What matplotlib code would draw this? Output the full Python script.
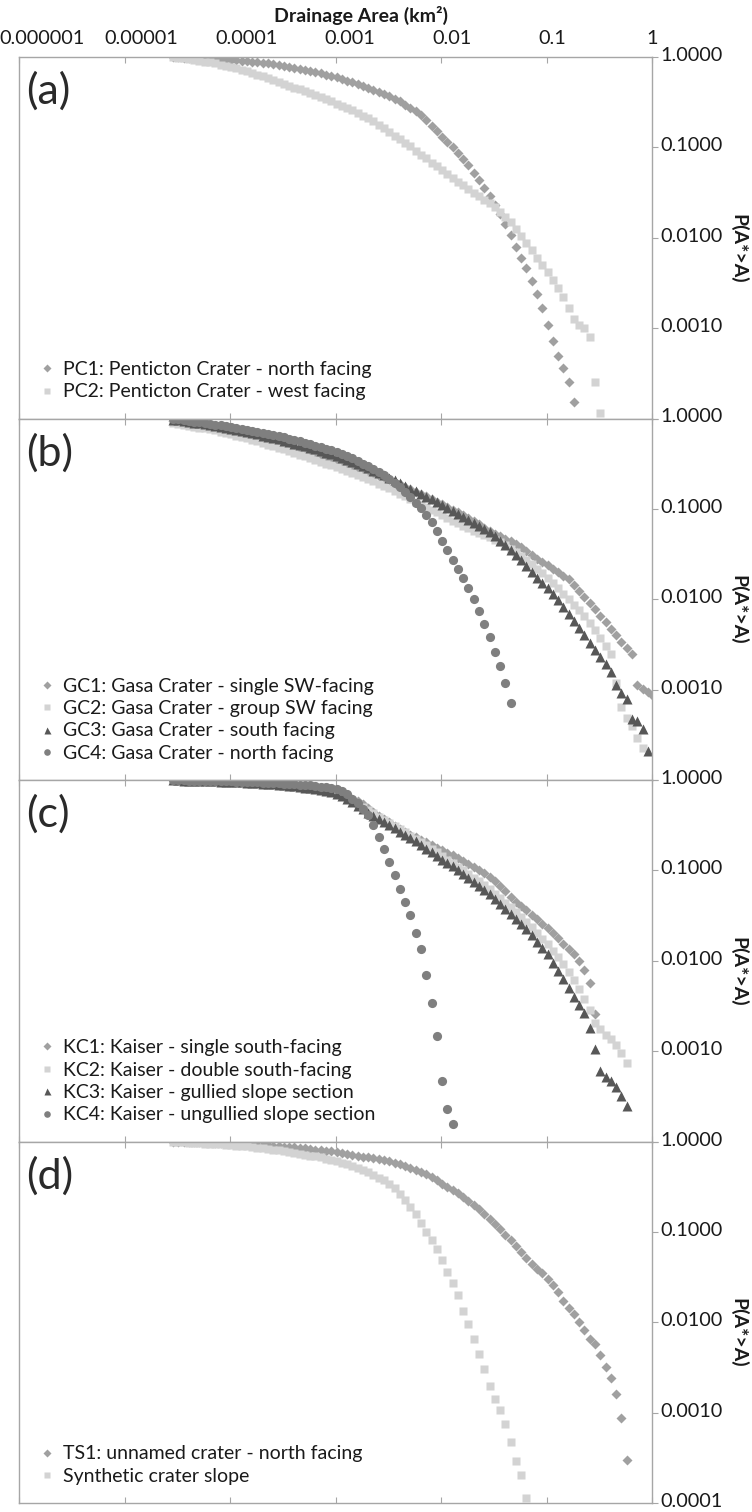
import numpy as np
import matplotlib
matplotlib.use("Agg")
import matplotlib.pyplot as plt
from matplotlib.transforms import ScaledTranslation
from matplotlib.ticker import NullLocator
from matplotlib.lines import Line2D

plt.rcParams['font.family'] = ['Lato', 'DejaVu Sans']

# ---------------- data ----------------
# log10 of drainage-area bin (km^2)
BIN_LOG_AREA = [
    -4.54, -4.49, -4.44, -4.39, -4.34, -4.29, -4.24, -4.19, -4.14, -4.09,
    -4.04, -3.99, -3.94, -3.89, -3.84, -3.79, -3.74, -3.69, -3.64, -3.59,
    -3.54, -3.49, -3.44, -3.39, -3.34, -3.29, -3.24, -3.19, -3.14, -3.09,
    -3.04, -2.99, -2.94, -2.89, -2.84, -2.79, -2.74, -2.69, -2.64, -2.59,
    -2.54, -2.49, -2.44, -2.39, -2.34, -2.29, -2.24, -2.19, -2.14, -2.09,
    -2.04, -1.99, -1.94, -1.89, -1.84, -1.79, -1.74, -1.69, -1.64, -1.59,
    -1.54, -1.49, -1.44, -1.39, -1.34, -1.29, -1.24, -1.19, -1.14, -1.09,
    -1.04, -0.99, -0.94, -0.89, -0.84, -0.79, -0.74, -0.69, -0.64, -0.59,
    -0.54, -0.49, -0.44, -0.39, -0.34, -0.29, -0.24, -0.19, -0.14, -0.09,
    -0.04, 0.01]

# log10 of exceedance probability P(A*>A) for each series, one value per bin
PC1_LOGP = [
    -0.004, -0.005, -0.007, -0.009, -0.011, -0.013, -0.015, -0.017, -0.020, -0.023,
    -0.026, -0.030, -0.034, -0.039, -0.044, -0.050, -0.056, -0.063, -0.070, -0.078,
    -0.087, -0.096, -0.106, -0.117, -0.128, -0.140, -0.152, -0.165, -0.179, -0.194,
    -0.210, -0.226, -0.243, -0.261, -0.280, -0.300, -0.321, -0.343, -0.365, -0.387,
    -0.41, -0.435, -0.46, -0.49, -0.53, -0.565, -0.60, -0.645, -0.70, -0.76,
    -0.82, -0.88, -0.94, -1.00, -1.065, -1.13, -1.20, -1.28, -1.36, -1.45,
    -1.54, -1.64, -1.74, -1.85, -1.97, -2.10, -2.22, -2.34, -2.48, -2.62,
    -2.78, -2.97, -3.14, -3.31, -3.44, -3.60, -3.82]
PC2_LOGP = [
    -0.004, -0.008, -0.015, -0.022, -0.030, -0.040, -0.050, -0.060, -0.071, -0.083,
    -0.096, -0.110, -0.125, -0.141, -0.158, -0.176, -0.195, -0.214, -0.234, -0.254,
    -0.275, -0.296, -0.317, -0.338, -0.359, -0.380, -0.401, -0.422, -0.443, -0.465,
    -0.49, -0.515, -0.54, -0.565, -0.59, -0.62, -0.65, -0.68, -0.71, -0.75,
    -0.79, -0.83, -0.87, -0.91, -0.95, -0.99, -1.04, -1.08, -1.12, -1.17,
    -1.21, -1.25, -1.30, -1.34, -1.38, -1.42, -1.46, -1.50, -1.54, -1.58,
    -1.62, -1.66, -1.71, -1.77, -1.83, -1.90, -1.98, -2.06, -2.14, -2.22,
    -2.30, -2.38, -2.47, -2.56, -2.66, -2.78, -2.90, -2.97, -3.00, -3.10,
    -3.60, -3.94]

GC1_LOGP = [
    -0.03, -0.037, -0.045, -0.053, -0.062, -0.071, -0.08, -0.09, -0.10, -0.112,
    -0.124, -0.137, -0.15, -0.163, -0.177, -0.191, -0.205, -0.22, -0.235, -0.25,
    -0.266, -0.282, -0.298, -0.315, -0.332, -0.35, -0.368, -0.386, -0.405, -0.424,
    -0.443, -0.463, -0.483, -0.503, -0.524, -0.545, -0.566, -0.588, -0.61, -0.633,
    -0.656, -0.68, -0.705, -0.73, -0.756, -0.782, -0.808, -0.835, -0.862, -0.89,
    -0.92, -0.95, -0.98, -1.01, -1.04, -1.07, -1.10, -1.135, -1.17, -1.21,
    -1.245, -1.275, -1.305, -1.335, -1.36, -1.385, -1.42, -1.465, -1.51, -1.55,
    -1.585, -1.62, -1.66, -1.70, -1.74, -1.78, -1.84, -1.91, -1.98, -2.04,
    -2.11, -2.18, -2.255, -2.33, -2.40, -2.47, -2.54, -2.61, -2.95, -2.99,
    -3.03, -3.07]
GC2_LOGP = [
    -0.05, -0.06, -0.07, -0.08, -0.09, -0.10, -0.11, -0.12, -0.13, -0.145,
    -0.16, -0.175, -0.19, -0.205, -0.22, -0.235, -0.252, -0.27, -0.288, -0.306,
    -0.324, -0.343, -0.362, -0.381, -0.40, -0.42, -0.44, -0.46, -0.48, -0.50,
    -0.52, -0.54, -0.562, -0.584, -0.606, -0.628, -0.65, -0.673, -0.696, -0.72,
    -0.745, -0.77, -0.80, -0.83, -0.86, -0.89, -0.92, -0.95, -0.98, -1.01,
    -1.04, -1.07, -1.10, -1.13, -1.16, -1.19, -1.215, -1.24, -1.265, -1.29,
    -1.315, -1.34, -1.37, -1.40, -1.44, -1.48, -1.52, -1.565, -1.61, -1.66,
    -1.71, -1.76, -1.82, -1.88, -1.94, -2.00, -2.06, -2.12, -2.19, -2.26,
    -2.34, -2.43, -2.52, -2.61, -2.93, -3.19, -3.31, -3.40, -3.53, -3.65]
GC3_LOGP = [
    -0.015, -0.022, -0.030, -0.038, -0.046, -0.055, -0.064, -0.073, -0.083, -0.093,
    -0.104, -0.115, -0.127, -0.139, -0.151, -0.164, -0.177, -0.19, -0.204, -0.218,
    -0.232, -0.247, -0.262, -0.277, -0.293, -0.309, -0.325, -0.342, -0.36, -0.378,
    -0.397, -0.417, -0.438, -0.46, -0.482, -0.505, -0.528, -0.552, -0.576, -0.60,
    -0.625, -0.655, -0.685, -0.715, -0.745, -0.775, -0.805, -0.835, -0.865, -0.895,
    -0.925, -0.955, -0.988, -1.02, -1.055, -1.09, -1.125, -1.16, -1.19, -1.22,
    -1.26, -1.30, -1.35, -1.40, -1.455, -1.51, -1.57, -1.635, -1.70, -1.76,
    -1.82, -1.88, -1.94, -2.01, -2.09, -2.165, -2.24, -2.32, -2.40, -2.48,
    -2.56, -2.64, -2.72, -2.80, -2.95, -3.04, -3.10, -3.33, -3.35, -3.44,
    -3.68]
GC4_LOGP = [
    -0.005, -0.010, -0.018, -0.026, -0.034, -0.042, -0.051, -0.060, -0.069, -0.076,
    -0.085, -0.094, -0.104, -0.114, -0.125, -0.137, -0.148, -0.160, -0.172, -0.185,
    -0.198, -0.210, -0.223, -0.237, -0.252, -0.268, -0.285, -0.302, -0.318, -0.336,
    -0.35, -0.37, -0.39, -0.415, -0.44, -0.47, -0.50, -0.53, -0.56, -0.59,
    -0.625, -0.665, -0.71, -0.76, -0.815, -0.87, -0.93, -0.995, -1.065, -1.144,
    -1.24, -1.35, -1.46, -1.565, -1.67, -1.77, -1.87, -2.00, -2.13, -2.27,
    -2.42, -2.58, -2.74, -2.93, -3.15]

KC1_LOGP = [
    -0.004, -0.005, -0.006, -0.007, -0.008, -0.009, -0.010, -0.011, -0.013, -0.015,
    -0.017, -0.019, -0.021, -0.024, -0.027, -0.030, -0.033, -0.037, -0.041, -0.045,
    -0.050, -0.055, -0.060, -0.066, -0.072, -0.079, -0.086, -0.094, -0.103, -0.114,
    -0.127, -0.142, -0.16, -0.18, -0.205, -0.235, -0.27, -0.31, -0.355, -0.395,
    -0.435, -0.47, -0.51, -0.546, -0.575, -0.605, -0.63, -0.66, -0.69, -0.72,
    -0.75, -0.78, -0.81, -0.835, -0.86, -0.895, -0.93, -0.96, -0.995, -1.03,
    -1.075, -1.12, -1.17, -1.23, -1.29, -1.35, -1.395, -1.44, -1.49, -1.54,
    -1.59, -1.64, -1.69, -1.75, -1.81, -1.87, -1.93, -2.00, -2.10, -2.25,
    -2.59]
KC2_LOGP = [
    -0.005, -0.006, -0.007, -0.008, -0.009, -0.010, -0.012, -0.014, -0.016, -0.018,
    -0.020, -0.022, -0.025, -0.028, -0.031, -0.034, -0.037, -0.041, -0.045, -0.049,
    -0.054, -0.059, -0.065, -0.071, -0.078, -0.086, -0.094, -0.102, -0.112, -0.124,
    -0.138, -0.155, -0.176, -0.20, -0.23, -0.265, -0.30, -0.335, -0.37, -0.405,
    -0.44, -0.475, -0.51, -0.545, -0.58, -0.615, -0.65, -0.685, -0.72, -0.76,
    -0.80, -0.84, -0.88, -0.92, -0.96, -1.00, -1.04, -1.08, -1.12, -1.16,
    -1.21, -1.26, -1.31, -1.36, -1.41, -1.46, -1.515, -1.57, -1.63, -1.69,
    -1.755, -1.82, -1.89, -1.96, -2.04, -2.12, -2.21, -2.31, -2.42, -2.55,
    -2.69, -2.76, -2.82, -2.87, -2.93, -3.02, -3.13]
KC3_LOGP = [
    -0.004, -0.005, -0.006, -0.007, -0.008, -0.009, -0.011, -0.013, -0.015, -0.017,
    -0.019, -0.021, -0.024, -0.027, -0.030, -0.033, -0.036, -0.040, -0.044, -0.048,
    -0.053, -0.058, -0.064, -0.07, -0.077, -0.085, -0.093, -0.10, -0.11, -0.122,
    -0.137, -0.155, -0.18, -0.21, -0.245, -0.285, -0.325, -0.36, -0.395, -0.43,
    -0.465, -0.50, -0.535, -0.57, -0.605, -0.64, -0.68, -0.72, -0.76, -0.80,
    -0.84, -0.88, -0.915, -0.955, -0.995, -1.04, -1.085, -1.13, -1.17, -1.215,
    -1.265, -1.315, -1.37, -1.425, -1.48, -1.535, -1.59, -1.65, -1.72, -1.79,
    -1.86, -1.93, -2.02, -2.11, -2.20, -2.30, -2.40, -2.49, -2.58, -2.74,
    -2.98, -3.22, -3.29, -3.33, -3.40, -3.50, -3.61]
KC4_LOGP = [
    -0.003, -0.004, -0.005, -0.006, -0.007, -0.008, -0.009, -0.010, -0.011, -0.012,
    -0.014, -0.016, -0.018, -0.020, -0.022, -0.024, -0.026, -0.028, -0.030, -0.033,
    -0.036, -0.039, -0.042, -0.046, -0.050, -0.055, -0.060, -0.066, -0.073, -0.081,
    -0.090, -0.10, -0.125, -0.16, -0.205, -0.26, -0.32, -0.39, -0.50, -0.63,
    -0.76, -0.91, -1.055, -1.21, -1.347, -1.498, -1.69, -1.875, -2.16, -2.465,
    -2.83, -3.33, -3.64, -3.81]

TS1_LOGP = [
    -0.003, -0.004, -0.005, -0.006, -0.007, -0.008, -0.009, -0.010, -0.012, -0.014,
    -0.016, -0.018, -0.020, -0.023, -0.027, -0.031, -0.035, -0.039, -0.043, -0.048,
    -0.052, -0.056, -0.060, -0.065, -0.070, -0.076, -0.082, -0.089, -0.096, -0.103,
    -0.110, -0.118, -0.127, -0.137, -0.147, -0.157, -0.167, -0.177, -0.187, -0.197,
    -0.207, -0.22, -0.235, -0.252, -0.27, -0.29, -0.312, -0.336, -0.36, -0.395,
    -0.43, -0.465, -0.50, -0.535, -0.572, -0.61, -0.655, -0.70, -0.75, -0.80,
    -0.855, -0.91, -0.97, -1.03, -1.095, -1.16, -1.225, -1.29, -1.36, -1.41,
    -1.46, -1.52, -1.59, -1.66, -1.76, -1.84, -1.91, -2.00, -2.09, -2.19,
    -2.24, -2.36, -2.50, -2.62, -2.79, -3.06, -3.52]
SYN_LOGP = [
    -0.005, -0.008, -0.011, -0.014, -0.017, -0.020, -0.023, -0.026, -0.029, -0.032,
    -0.036, -0.040, -0.045, -0.050, -0.055, -0.060, -0.067, -0.074, -0.082, -0.09,
    -0.099, -0.108, -0.117, -0.126, -0.135, -0.145, -0.155, -0.165, -0.177, -0.19,
    -0.205, -0.22, -0.235, -0.25, -0.27, -0.29, -0.315, -0.34, -0.37, -0.40,
    -0.43, -0.47, -0.52, -0.58, -0.65, -0.72, -0.80, -0.90, -1.00, -1.09,
    -1.19, -1.31, -1.44, -1.57, -1.70, -1.87, -2.02, -2.18, -2.35, -2.52,
    -2.71, -2.85, -2.97, -3.13, -3.32, -3.53, -3.69, -3.94]

PANEL_LETTERS = ['(a)', '(b)', '(c)', '(d)']
PANEL_SERIES = [
    [("PC1: Penticton Crater - north facing", PC1_LOGP, 'diamond'),
     ("PC2: Penticton Crater - west facing", PC2_LOGP, 'square')],
    [("GC1: Gasa Crater - single SW-facing", GC1_LOGP, 'diamond'),
     ("GC2: Gasa Crater - group SW facing", GC2_LOGP, 'square'),
     ("GC3: Gasa Crater - south facing", GC3_LOGP, 'triangle'),
     ("GC4: Gasa Crater - north facing", GC4_LOGP, 'circle')],
    [("KC1: Kaiser - single south-facing", KC1_LOGP, 'diamond'),
     ("KC2: Kaiser - double south-facing", KC2_LOGP, 'square'),
     ("KC3: Kaiser - gullied slope section", KC3_LOGP, 'triangle'),
     ("KC4: Kaiser - ungullied slope section", KC4_LOGP, 'circle')],
    [("TS1: unnamed crater - north facing", TS1_LOGP, 'diamond'),
     ("Synthetic crater slope", SYN_LOGP, 'square')],
]

X_TICKS = [1e-6, 1e-5, 1e-4, 1e-3, 1e-2, 1e-1, 1.0]
X_TICK_LABELS = ['0.000001', '0.00001', '0.0001', '0.001', '0.01', '0.1', '1']
Y_TICKS = [1e-4, 1e-3, 1e-2, 1e-1, 1.0]
Y_TICK_LABELS = ['0.0001', '0.0010', '0.0100', '0.1000', '1.0000']

# ---------------- style ----------------
STYLES = {
    'diamond':  dict(marker='D', color='#a0a0a0', ms=5.4),
    'square':   dict(marker='s', color='#d3d3d3', ms=6.2),
    'triangle': dict(marker='^', color='#575757', ms=7.0),
    'circle':   dict(marker='o', color='#7f7f7f', ms=6.6),
}
AXIS_COLOR = '#a6a6a6'
TEXT_COLOR = '#1a1a1a'
FS = 14

W, H = 752, 1512
fig = plt.figure(figsize=(W / 100, H / 100), dpi=100)

left_px, right_px = 19, 652
top_px, panel_h = 57, 361.5
x_label_shift_px = [23, 17, 16, 14, 11, 6, 0]

for i, series in enumerate(PANEL_SERIES):
    y0 = 1 - (top_px + panel_h * (i + 1)) / H
    ax = fig.add_axes([left_px / W, y0, (right_px - left_px) / W, panel_h / H])
    ax.set_xscale('log')
    ax.set_yscale('log')
    ax.set_xlim(1e-6, 1)
    ax.set_ylim(1e-4, 1)

    handles = []
    for label, logp, sk in series:
        st = STYLES[sk]
        n = len(logp)
        xa = 10 ** np.array(BIN_LOG_AREA[:n])
        ya = 10 ** np.array(logp)
        ax.plot(xa, ya, linestyle='none', marker=st['marker'], ms=st['ms'],
                mfc=st['color'], mec='none', label=label)
        handles.append(Line2D([], [], linestyle='none', marker=st['marker'],
                              ms=st['ms'] * 0.72, mfc=st['color'], mec='none'))

    for sp in ax.spines.values():
        sp.set_color(AXIS_COLOR)
        sp.set_linewidth(1.0)

    # x axis
    ax.set_xticks(X_TICKS)
    ax.xaxis.set_minor_locator(NullLocator())
    ax.tick_params(axis='x', which='major', direction='in', length=4,
                   color=AXIS_COLOR, top=True, bottom=True,
                   labeltop=(i == 0), labelbottom=False,
                   labelsize=FS + 0.3, labelcolor=TEXT_COLOR, pad=7)
    if i == 0:
        ax.set_xticklabels(X_TICK_LABELS)
        for lab, dx in zip(ax.get_xticklabels(which='major'), x_label_shift_px):
            lab.set_transform(lab.get_transform() +
                              ScaledTranslation(dx / 100, 0, fig.dpi_scale_trans))

    # y axis on the right
    ax.yaxis.tick_right()
    ax.set_yticks(Y_TICKS)
    ax.yaxis.set_minor_locator(NullLocator())
    ylabels = list(Y_TICK_LABELS)
    if i < 3:
        ylabels[0] = ''
    ax.set_yticklabels(ylabels)
    ax.tick_params(axis='y', which='major', direction='out', length=4,
                   color=AXIS_COLOR, left=False, right=True,
                   labelleft=False, labelright=True,
                   labelsize=FS + 0.3, labelcolor=TEXT_COLOR, pad=2)
    for lab in ax.get_yticklabels(which='major'):
        lab.set_transform(lab.get_transform() +
                          ScaledTranslation(0, 3 / 100, fig.dpi_scale_trans))

    ax.text(1.137, 0.47, 'P(A*>A)', transform=ax.transAxes, rotation=270,
            ha='center', va='center', fontsize=FS, fontweight='bold',
            color=TEXT_COLOR)

    ax.text(0.011, 0.905, PANEL_LETTERS[i], transform=ax.transAxes,
            ha='left', va='center', fontsize=31, fontweight='normal',
            color='#2a2a2a')

    ax.legend(handles, [s[0] for s in series], loc='lower left',
              bbox_to_anchor=(0.035, 0.05), frameon=False, fontsize=FS,
              handlelength=0.65, handletextpad=0.45, labelspacing=0.28,
              borderpad=0, borderaxespad=0, labelcolor=TEXT_COLOR)

fig.text(361 / W, 1 - 15 / H, 'Drainage Area (km²)', ha='center', va='center',
         fontsize=FS, fontweight='bold', color=TEXT_COLOR)

fig.savefig('out.png', dpi=100)
